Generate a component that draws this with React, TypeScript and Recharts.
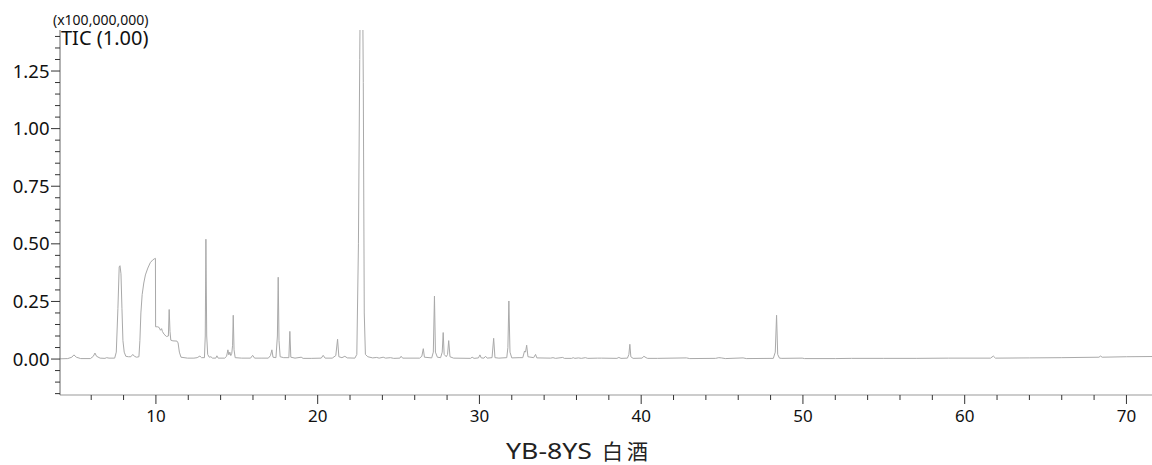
import React from 'react';
import { LineChart, Line, XAxis, YAxis } from 'recharts';

// Retention time (min) vs TIC intensity (x100,000,000)
const ticTrace: [number, number][] = [
  [4.07, 0.001], [4.55, 0.002], [4.8, 0.008], [4.93, 0.018], [5.08, 0.008], [5.35, 0.002],
  [5.95, 0.002], [6.13, 0.012], [6.23, 0.026], [6.33, 0.012], [6.55, 0.004], [6.85, 0.003],
  [6.95, 0.006], [7.1, 0.004], [7.45, 0.004], [7.55, 0.03], [7.65, 0.22], [7.73, 0.4],
  [7.78, 0.405], [7.84, 0.37], [7.9, 0.22], [7.96, 0.08], [8.04, 0.03], [8.14, 0.012],
  [8.3, 0.01], [8.45, 0.01], [8.57, 0.02], [8.67, 0.012], [8.8, 0.008], [8.95, 0.01],
  [9.01, 0.08], [9.07, 0.2], [9.15, 0.28], [9.25, 0.33], [9.35, 0.365], [9.5, 0.395],
  [9.65, 0.418], [9.8, 0.43], [9.93, 0.436], [9.97, 0.437], [9.98, 0.14], [10.1, 0.14],
  [10.2, 0.137], [10.28, 0.125], [10.35, 0.132], [10.4, 0.12], [10.5, 0.108], [10.65, 0.098],
  [10.77, 0.1], [10.82, 0.215], [10.87, 0.12], [10.92, 0.082], [11.05, 0.079], [11.3, 0.078],
  [11.37, 0.07], [11.45, 0.03], [11.55, 0.008], [11.95, 0.004], [12.35, 0.004], [12.55, 0.006],
  [12.72, 0.013], [12.82, 0.006], [13.0, 0.006], [13.05, 0.1], [13.09, 0.52], [13.14, 0.1],
  [13.2, 0.02], [13.3, 0.008], [13.4, 0.01], [13.5, 0.004], [13.7, 0.004], [13.77, 0.014],
  [13.85, 0.004], [14.25, 0.004], [14.37, 0.012], [14.45, 0.04], [14.51, 0.018], [14.57, 0.03],
  [14.63, 0.015], [14.69, 0.025], [14.74, 0.06], [14.78, 0.19], [14.83, 0.04], [14.9, 0.006],
  [15.3, 0.004], [15.85, 0.004], [15.98, 0.016], [16.1, 0.004], [16.5, 0.004], [16.95, 0.004],
  [17.08, 0.015], [17.17, 0.04], [17.24, 0.008], [17.42, 0.006], [17.51, 0.1], [17.56, 0.355],
  [17.61, 0.08], [17.68, 0.01], [17.9, 0.006], [18.22, 0.006], [18.28, 0.12], [18.34, 0.008],
  [18.6, 0.004], [18.98, 0.008], [19.1, 0.003], [19.6, 0.003], [20.22, 0.004], [20.34, 0.016],
  [20.46, 0.004], [20.9, 0.004], [21.12, 0.015], [21.23, 0.086], [21.31, 0.01], [21.5, 0.006],
  [21.68, 0.012], [21.83, 0.005], [22.3, 0.004], [22.42, 0.02], [22.52, 0.5], [22.6, 1.3],
  [22.67, 1.9], [22.75, 1.9], [22.82, 1.2], [22.88, 0.2], [22.95, 0.02], [23.1, 0.01],
  [23.4, 0.005], [23.65, 0.007], [23.8, 0.004], [24.05, 0.008], [24.2, 0.004], [24.5, 0.006],
  [24.7, 0.003], [25.08, 0.004], [25.16, 0.012], [25.25, 0.004], [26.3, 0.004], [26.44, 0.012],
  [26.53, 0.045], [26.6, 0.008], [27.05, 0.005], [27.15, 0.03], [27.22, 0.273], [27.28, 0.03],
  [27.4, 0.008], [27.6, 0.006], [27.7, 0.03], [27.76, 0.115], [27.82, 0.02], [27.95, 0.01],
  [28.03, 0.02], [28.1, 0.08], [28.18, 0.01], [28.4, 0.004], [29.45, 0.003], [29.55, 0.008],
  [29.67, 0.003], [29.94, 0.005], [30.03, 0.018], [30.11, 0.005], [30.28, 0.004], [30.38, 0.012],
  [30.48, 0.004], [30.78, 0.006], [30.88, 0.09], [30.96, 0.006], [31.2, 0.004], [31.69, 0.006],
  [31.76, 0.05], [31.82, 0.252], [31.89, 0.03], [32.0, 0.005], [32.45, 0.006], [32.68, 0.006],
  [32.79, 0.035], [32.85, 0.03], [32.92, 0.06], [33.0, 0.01], [33.35, 0.006], [33.47, 0.02],
  [33.55, 0.005], [34.4, 0.004], [34.55, 0.006], [34.7, 0.003], [35.15, 0.007], [35.25, 0.003],
  [35.7, 0.003], [35.8, 0.006], [35.9, 0.003], [36.12, 0.005], [36.3, 0.003], [36.55, 0.006],
  [36.7, 0.003], [37.3, 0.004], [37.55, 0.004], [38.5, 0.003], [38.62, 0.007], [38.75, 0.003],
  [39.15, 0.004], [39.24, 0.02], [39.3, 0.064], [39.36, 0.01], [39.5, 0.003], [40.05, 0.004],
  [40.17, 0.012], [40.3, 0.006], [40.4, 0.003], [41.0, 0.003], [42.8, 0.005], [43.0, 0.002],
  [44.6, 0.003], [44.8, 0.006], [44.95, 0.005], [45.2, 0.002], [46.3, 0.005], [46.5, 0.002],
  [48.17, 0.003], [48.29, 0.03], [48.37, 0.19], [48.44, 0.02], [48.55, 0.004], [48.7, 0.003],
  [49.95, 0.004], [50.1, 0.002], [52.0, 0.002], [53.0, 0.003], [55.0, 0.003], [57.0, 0.003],
  [59.0, 0.004], [61.6, 0.004], [61.77, 0.013], [61.9, 0.004], [64.0, 0.005], [66.0, 0.006],
  [68.3, 0.008], [68.4, 0.013], [68.5, 0.008], [70.0, 0.01], [71.58, 0.011],
];

const xTicks = [6, 8, 10, 12, 14, 16, 18, 20, 22, 24, 26, 28, 30, 32, 34, 36, 38, 40, 42, 44, 46, 48, 50, 52, 54, 56, 58, 60, 62, 64, 66, 68, 70];
const xMajorTicks = [10, 20, 30, 40, 50, 60, 70];
const xMajorLabels = ['10', '20', '30', '40', '50', '60', '70'];

const yTicks = [-0.15, -0.1, -0.05, 0, 0.05, 0.1, 0.15, 0.2, 0.25, 0.3, 0.35, 0.4, 0.45, 0.5, 0.55, 0.6, 0.65, 0.7, 0.75, 0.8, 0.85, 0.9, 0.95, 1.0, 1.05, 1.1, 1.15, 1.2, 1.25, 1.3, 1.35, 1.4];
const yMajorTicks = [0, 0.25, 0.5, 0.75, 1.0, 1.25];
const yMajorLabels = ['0.00', '0.25', '0.50', '0.75', '1.00', '1.25'];

const sampleName = 'YB-8YS';
const sampleKind = '白酒';

const xDomain: [number, number] = [4.07, 71.58];
const yDomain: [number, number] = [-0.156, 1.428];

const FONT = '"Noto Sans", "Noto Sans CJK SC", sans-serif';

const data = ticTrace.map(([t, v]) => ({ t, v }));

const YTick = (props: any) => {
  const { x, y, payload } = props;
  const idx = yMajorTicks.findIndex((m) => Math.abs(m - payload.value) < 1e-6);
  const major = idx >= 0;
  const len = major ? 9 : 5;
  return (
    <g>
      <line x1={x} y1={y} x2={x - len} y2={y} stroke="#333" strokeWidth={1} />
      {major && (
        <text x={x - 10.5} y={y} dy="0.36em" textAnchor="end" fontSize={18.5} fill="#111" fontFamily={FONT}>
          {yMajorLabels[idx]}
        </text>
      )}
    </g>
  );
};

const XTick = (props: any) => {
  const { x, y, payload } = props;
  const idx = xMajorTicks.findIndex((m) => Math.abs(m - payload.value) < 1e-6);
  const major = idx >= 0;
  const len = major ? 9 : 5;
  return (
    <g>
      <line x1={x} y1={y} x2={x} y2={y + len} stroke="#333" strokeWidth={1} />
      {major && (
        <text x={x} y={y + 27} textAnchor="middle" fontSize={17} fill="#111" fontFamily={FONT}>
          {xMajorLabels[idx]}
        </text>
      )}
    </g>
  );
};

export default function App() {
  return (
    <div style={{ position: 'absolute', left: 0, top: 0, width: 1152, height: 465, background: '#fff', overflow: 'hidden' }}>
      <LineChart width={1152} height={465} data={data} margin={{ top: 30, right: 0, bottom: 30, left: 0 }}>
        <XAxis
          dataKey="t"
          type="number"
          domain={xDomain}
          allowDataOverflow
          ticks={xTicks}
          interval={0}
          tickSize={0}
          tickMargin={0}
          tickLine={false}
          tick={(p: any) => <XTick {...p} />}
          height={40}
          axisLine={{ stroke: '#999' }}
        />
        <XAxis
          xAxisId="top"
          orientation="top"
          type="number"
          domain={xDomain}
          height={0}
          tick={false}
          tickLine={false}
          axisLine={{ stroke: '#d0d0d0' }}
        />
        <YAxis
          type="number"
          domain={yDomain}
          allowDataOverflow
          ticks={yTicks}
          interval={0}
          width={60}
          tickSize={0}
          tickMargin={0}
          tickLine={false}
          tick={(p: any) => <YTick {...p} />}
          axisLine={{ stroke: '#666' }}
        />
        <Line
          type="linear"
          dataKey="v"
          stroke="#a9a9a9"
          strokeWidth={1}
          dot={false}
          activeDot={false}
          isAnimationActive={false}
        />
      </LineChart>
      <svg width={1152} height={465} style={{ position: 'absolute', left: 0, top: 0, pointerEvents: 'none' }}>
        <text x={53} y={25} fontSize={14} fill="#111" fontFamily={FONT}>(x100,000,000)</text>
        <text x={61} y={45} fontSize={20} fill="#111" fontFamily={FONT}>TIC (1.00)</text>
        <text y={459} fontSize={21} fill="#222" fontFamily={FONT}>
          <tspan x={506} textLength={86} lengthAdjust="spacingAndGlyphs">{sampleName}</tspan>
          <tspan x={602} letterSpacing={4}>{sampleKind}</tspan>
        </text>
      </svg>
    </div>
  );
}
